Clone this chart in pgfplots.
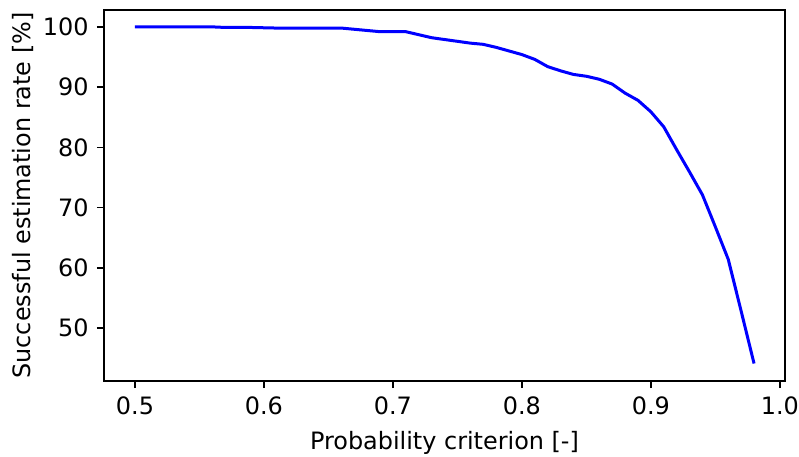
\documentclass[border=0pt]{standalone}
\usepackage{pgfplots}
\pgfplotsset{compat=1.18}
\usepackage{fontspec}
\setmainfont{DejaVu Sans}

\begin{document}
\fontsize{12}{14.4}\selectfont
\begin{tikzpicture}
\begin{axis}[
    name=ax,
    scale only axis,
    width=340.5bp, height=185.5bp,
    xmin=0.476, xmax=1.004,
    ymin=41.2, ymax=102.8,
    xtick={0.5,0.6,...,1.0},
    ytick={50,60,...,100},
    xticklabel style={/pgf/number format/.cd, fixed, fixed zerofill, precision=1},
    /pgf/number format/assume math mode=true,
    tick align=outside,
    xtick pos=bottom, ytick pos=left,
    major tick length=3.5bp,
    tick style={black, line width=0.8bp},
    axis line style={black, line width=0.8bp},
    xlabel={Probability criterion [-]},
    ylabel={Successful estimation rate [\%]},
    ylabel style={at={(ticklabel cs:0.5)}, anchor=south, yshift=-3.5bp},
    xlabel style={at={(ticklabel cs:0.5)}, anchor=north, yshift=-0.5bp},
]
\addplot[color=blue, line width=1.5bp, line join=round] coordinates {
(0.50,100.0) (0.51,100.0) (0.52,100.0) (0.53,100.0) (0.54,100.0) (0.55,100.0) (0.56,100.0)
(0.57,99.9) (0.58,99.9) (0.59,99.9) (0.60,99.85) (0.61,99.8) (0.62,99.8) (0.63,99.8)
(0.64,99.8) (0.65,99.8) (0.66,99.8) (0.67,99.6) (0.68,99.4) (0.69,99.2) (0.70,99.2)
(0.71,99.2) (0.72,98.7) (0.73,98.2) (0.74,97.9) (0.75,97.6) (0.76,97.3) (0.77,97.1)
(0.78,96.6) (0.79,96.0) (0.80,95.4) (0.81,94.6) (0.82,93.4) (0.83,92.7) (0.84,92.1)
(0.85,91.8) (0.86,91.3) (0.87,90.5) (0.88,89.0) (0.89,87.8) (0.90,85.9) (0.91,83.4)
(0.92,79.6) (0.93,75.9) (0.94,72.1) (0.95,66.8) (0.96,61.4) (0.97,52.8) (0.98,44.1)
};
\end{axis}
\pgfresetboundingbox
\path ([xshift=-52bp,yshift=-38bp]ax.south west) rectangle ([xshift=7bp,yshift=5bp]ax.north east);
\end{tikzpicture}
\end{document}
